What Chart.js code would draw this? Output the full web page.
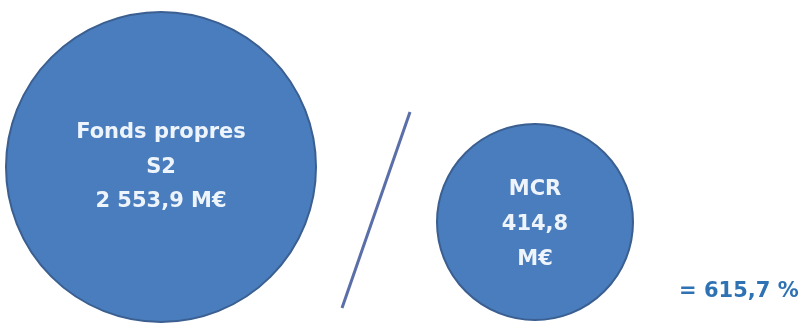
<!DOCTYPE html>
<html>
<head>
<meta charset="utf-8">
<script src="https://cdn.jsdelivr.net/npm/chart.js@4/dist/chart.umd.min.js"></script>
<style>
  html, body { margin: 0; padding: 0; background: #fff; }
  #wrap { width: 803px; height: 323px; position: relative; }
</style>
</head>
<body>
<div id="wrap"><canvas id="ratio"></canvas></div>
<script>
const CATEGORIES = ["Fonds propres S2", "MCR"];
const LABEL_LINES = [["Fonds propres", "S2", "2 553,9 M€"], ["MCR", "414,8", "M€"]];
const VALUES = [2553.9, 414.8];
const RESULT_LABEL = "= 615,7 %";

// placement on a 0..803 / 0..323 grid
const BUBBLE_X = [161, 535];
const BUBBLE_Y = [167, 222];
const BUBBLE_R = [155, 98];
const SLASH_X = [410, 342];
const SLASH_Y = [112, 308];

const FILL = "#4a7dbd";
const EDGE = "#3a5f90";
const FONT = "bold 21px 'DejaVu Sans', sans-serif";

const labelPlugin = {
  id: "circleLabels",
  afterDatasetsDraw(chart) {
    const ctx = chart.ctx;
    const meta = chart.getDatasetMeta(0);
    ctx.save();
    ctx.fillStyle = "#eef4fb";
    ctx.textAlign = "center";
    ctx.textBaseline = "middle";
    ctx.font = FONT;
    meta.data.forEach((el, i) => {
      const top = i === 0 ? -34 : -32;
      const gap = i === 0 ? 34.5 : 35;
      LABEL_LINES[i].forEach((t, j) => {
        ctx.fillText(t, el.x, el.y + top + j * gap);
      });
    });
    const sx = chart.scales.x, sy = chart.scales.y;
    ctx.fillStyle = "#2f72b4";
    ctx.textAlign = "left";
    ctx.fillText(RESULT_LABEL, sx.getPixelForValue(679), sy.getPixelForValue(292));
    ctx.restore();
  }
};

new Chart("ratio", {
  data: {
    datasets: [
      {
        type: "bubble",
        label: "valeurs",
        data: VALUES.map((v, i) => ({ x: BUBBLE_X[i], y: BUBBLE_Y[i], r: BUBBLE_R[i], v: v })),
        backgroundColor: FILL,
        borderColor: EDGE,
        borderWidth: 2,
        hoverRadius: 0,
        clip: false,
      },
      {
        type: "line",
        label: "division",
        data: SLASH_X.map((x, i) => ({ x: x, y: SLASH_Y[i] })),
        borderColor: "#5a6ea8",
        borderWidth: 3,
        pointRadius: 0,
        clip: false,
      },
    ],
  },
  options: {
    responsive: true,
    maintainAspectRatio: false,
    animation: false,
    layout: { padding: 0, autoPadding: false },
    plugins: { legend: { display: false }, tooltip: { enabled: false } },
    scales: {
      x: { type: "linear", min: 0, max: 803, display: false },
      y: { type: "linear", min: 0, max: 323, reverse: true, display: false },
    },
  },
  plugins: [labelPlugin],
});
</script>
</body>
</html>
